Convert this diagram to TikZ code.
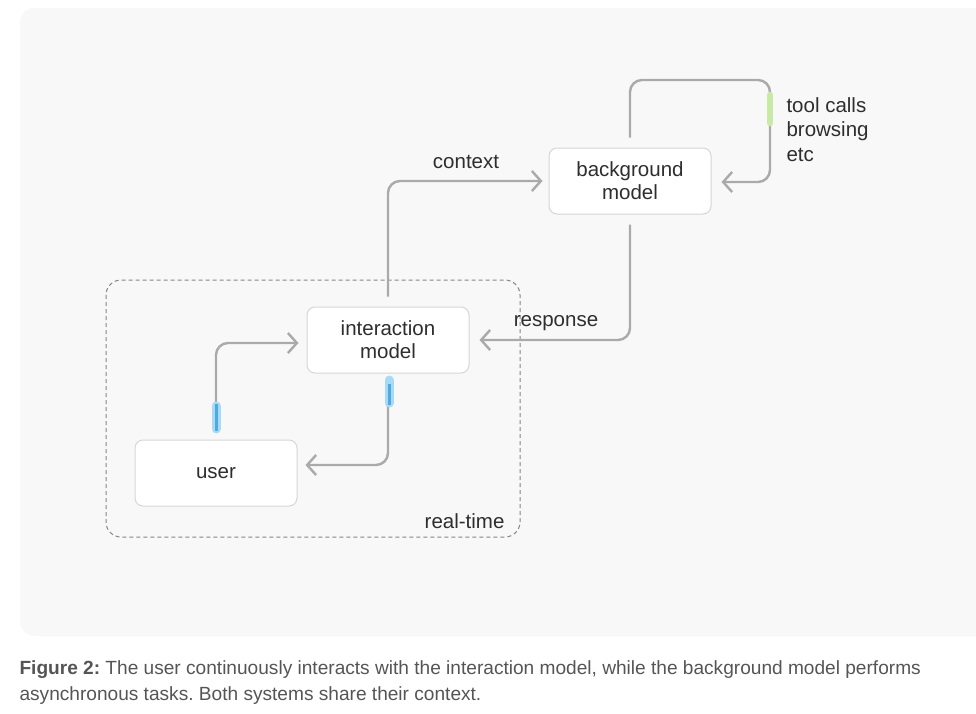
\documentclass[tikz,border=0pt]{standalone}
\usepackage{fontspec}
\setmainfont{Liberation Sans}
\usetikzlibrary{arrows.meta}
\definecolor{panelgray}{HTML}{F8F8F8}
\definecolor{boxline}{HTML}{D6D6D6}
\definecolor{linegray}{HTML}{AAAAAA}
\definecolor{dashgray}{HTML}{858585}
\definecolor{txtgray}{HTML}{2E2E2E}
\definecolor{capgray}{HTML}{555555}
\definecolor{glowblue}{HTML}{A9DAF5}
\definecolor{coreblue}{HTML}{4FA9E0}
\definecolor{glowgreen}{HTML}{C8EAA6}
\tikzset{mbox/.style={draw=boxline,fill=white,rounded corners=8pt,line width=1pt,
           minimum width=162pt,minimum height=66pt,align=center,text=txtgray,
           font=\fontsize{20.5}{23}\selectfont},
         lab/.style={text=txtgray,font=\fontsize{20.5}{23}\selectfont},
         conn/.style={draw=linegray,line width=2.4pt,rounded corners=12pt,
           -{Straight Barb[length=9pt,width=20pt,line width=2.4pt]}}
         }
\begin{document}
\frenchspacing
\begin{tikzpicture}[x=1pt,y=-1pt,
  glow/.style={line width=9pt,line cap=round,glowblue},
  core/.style={line width=3pt,coreblue},
  greenglow/.style={line width=6.5pt,line cap=round,glowgreen}
  ]
  \useasboundingbox (0,0) rectangle (976,713);
  \fill[panelgray,rounded corners=14pt] (20,8) rectangle (992,636);

  % real-time region
  \draw[draw=dashgray,line width=1pt,rounded corners=15pt,
        dash pattern=on 4pt off 3pt] (106,280) rectangle (520,537);
  \node[lab,anchor=east] (rt) at (508,521) {real-time};

  % models
  \node[mbox] (bg) at (630,181) {background\\model};
  \node[mbox] (im) at (388,340) {interaction\\model};
  \node[mbox] (user) at (216,473) {user};

  % connectors
  \draw[conn] ([yshift=10pt]im.north) |- ([xshift=-6pt]bg.west);
  \node[lab] (ctx) at (466,162) {context};

  \coordinate (loop) at (770,80);
  \draw[conn] ([yshift=10pt]bg.north) |- (loop) |- ([xshift=10pt,yshift=-1pt]bg.east);
  \draw[greenglow] (770,95) -- (770,123);
  \node[lab,anchor=north west,align=left,font=\fontsize{20.5}{24.5}\selectfont]
    (tools) at (783,94) {tool calls\\browsing\\etc};

  \draw[conn] ([yshift=-10pt]bg.south) |- ([xshift=10pt]im.east);
  \node[lab] (resp) at (556,323) {response};

  \draw[conn] ([yshift=8pt]user.north) |- ([xshift=-8pt,yshift=-3pt]im.west);
  \draw[glow] (216,406) -- (216,429);
  \draw[core] (216,404) -- (216,431);

  \draw[conn] ([yshift=-4pt]im.south) |- ([xshift=8pt,yshift=8pt]user.east);
  \draw[glow] (389,380) -- (389,403);
  \draw[core] (389,384) -- (389,405);

  % caption
  \node[anchor=north west,align=left,text=capgray,
        font=\fontsize{19.1}{26}\selectfont] (cap) at (16,657)
    {\textbf{Figure 2:} The user continuously interacts with the interaction model, while the background model performs\\asynchronous tasks. Both systems share their context.};
\end{tikzpicture}
\end{document}
